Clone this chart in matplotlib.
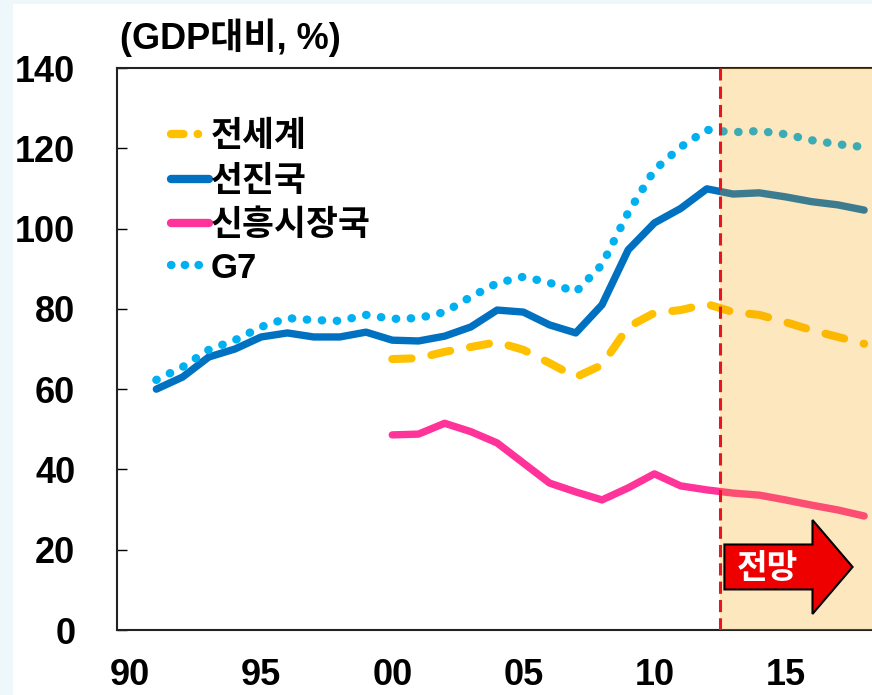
import matplotlib
matplotlib.use('Agg')
import matplotlib.pyplot as plt
from matplotlib.patches import FancyArrow, Rectangle
from matplotlib.lines import Line2D

# --- data (GDP 대비, %) ---
years_long = list(range(1991, 2019))
years_short = list(range(2000, 2019))

advanced = [60.0, 63.0, 68.0, 70.0, 73.0, 74.0, 73.0, 73.0, 74.2, 72.2,
            72.0, 73.2, 75.5, 79.7, 79.2, 76.0, 74.0, 81.0, 94.7, 101.4,
            105.0, 109.9, 108.6, 108.9, 107.9, 106.7, 105.9, 104.6]
g7 = [62.3, 65.5, 69.8, 72.2, 75.5, 77.7, 77.2, 77.0, 78.5, 77.5,
      77.7, 79.2, 83.0, 86.4, 88.0, 86.5, 84.2, 91.0, 104.0, 114.6,
      120.3, 124.6, 124.0, 124.3, 123.5, 122.0, 121.0, 120.3]
world = [67.5, 67.7, 69.3, 70.5, 71.7, 69.8, 66.5, 63.0, 66.0, 75.5,
         79.0, 79.7, 81.2, 79.2, 78.5, 76.7, 74.7, 73.0, 71.3]
emerging = [48.6, 48.8, 51.5, 49.4, 46.6, 41.6, 36.6, 34.4, 32.4, 35.4,
            38.9, 35.9, 34.9, 34.1, 33.6, 32.4, 31.1, 29.9, 28.4]

xticks = [1990, 1995, 2000, 2005, 2010, 2015]
xtick_labels = ['90', '95', '00', '05', '10', '15']
yticks = [0, 20, 40, 60, 80, 100, 120, 140]
forecast_start = 2012.5

num_font = ['Liberation Sans Narrow', 'Liberation Sans', 'Noto Sans CJK KR']
kr_font = ['Noto Sans CJK KR', 'DejaVu Sans']

fig = plt.figure(figsize=(8.72, 6.95), dpi=100)
fig.patch.set_facecolor('#eef7fa')
fig.patches.append(Rectangle((13 / 872, 0), 1, 1 - 4 / 695, transform=fig.transFigure,
                             facecolor='white', edgecolor='none', zorder=-10))

ax = fig.add_axes([117 / 872, 65 / 695, 755 / 872, 562 / 695])
ax.set_facecolor('none')

ax.plot(years_short, world, color='#ffc000', lw=5.8, ls=(0, (2.4, 2.5)),
        dash_capstyle='round', label='전세계', zorder=2)
ax.plot(years_long, advanced, color='#0070c0', lw=5.3, solid_joinstyle='round',
        solid_capstyle='round', label='선진국', zorder=2)
ax.plot(years_short, emerging, color='#ff3399', lw=5.3, solid_joinstyle='round',
        solid_capstyle='round', label='신흥시장국', zorder=2)
ax.plot(years_long, g7, color='#00b0f0', lw=6, ls=(0, (0.05, 1.75)),
        dash_capstyle='round', label='G7', zorder=2)

# forecast shading sits on top of the lines (tints them)
ax.axvspan(forecast_start, 2019, color='#f5a000', alpha=0.25, lw=0, zorder=3)
ax.axvline(forecast_start, color='#e8141e', lw=2.2, ls=(0, (4, 2)), zorder=4)

arrow = FancyArrow(2012.67, 15.7, 4.89, 0, width=11.2, head_width=23.4,
                   head_length=1.53, length_includes_head=True,
                   facecolor='#ee0000', edgecolor='black', lw=1.5, zorder=5)
ax.add_patch(arrow)
ax.text(2014.3, 15.3, '전망', color='white', fontsize=24, fontweight='bold',
        family=kr_font, ha='center', va='center', zorder=6)

ax.set_xlim(1989.5, 2018.3)
ax.set_ylim(0, 140)
ax.set_xticks(xticks)
ax.set_xticklabels(xtick_labels)
ax.set_yticks(yticks)
for lab in ax.get_xticklabels() + ax.get_yticklabels():
    lab.set_fontfamily(num_font)
    lab.set_fontsize(26)
    lab.set_fontweight('bold')
ax.tick_params(axis='y', direction='in', length=7, width=1, pad=30)
ax.tick_params(axis='x', length=0, pad=20)

ax.spines['right'].set_visible(False)
for s in ['left', 'top', 'bottom']:
    ax.spines[s].set_linewidth(1.5)
    ax.spines[s].set_color('#222222')

handles = [Line2D([], [], color='#ffc000', lw=6, ls=(0, (1.5, 1.7, 0.05, 5)), dash_capstyle='round'),
           Line2D([], [], color='#0070c0', lw=6, solid_capstyle='round'),
           Line2D([], [], color='#ff3399', lw=6, solid_capstyle='round'),
           Line2D([], [], color='#00b0f0', lw=6, ls=(0, (0.05, 1.6)), dash_capstyle='round')]
leg = ax.legend(handles, ['전세계', '선진국', '신흥시장국', 'G7'], loc='upper left',
                bbox_to_anchor=(0.053, 0.935), frameon=False, handlelength=1.1,
                handletextpad=0.05, labelspacing=0.27, borderaxespad=0,
                prop={'family': kr_font, 'size': 25, 'weight': 'bold'})
leg.set_zorder(7)
leg.get_texts()[3].set_fontfamily(num_font)

fig.text(120 / 872, 1 - 38 / 695, '(GDP대비, %)', fontsize=26, fontweight='bold',
         family=num_font, ha='left', va='center')

fig.savefig('out.png', dpi=100, facecolor=fig.get_facecolor())
